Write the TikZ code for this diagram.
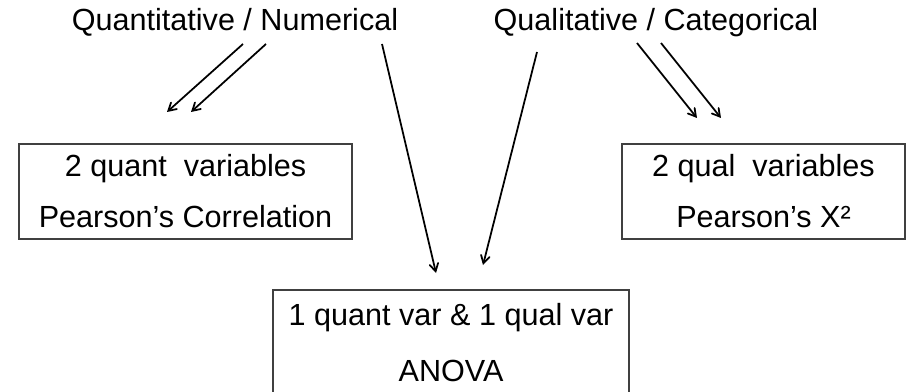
\documentclass[tikz,border=0pt]{standalone}
\usepackage{fontspec}
\setmainfont{Liberation Sans}
\usepackage{tikz}
\usetikzlibrary{arrows}
\usepackage{xcolor}

\tikzset{
  title/.style={anchor=base, inner sep=0pt, font=\fontsize{17.4}{20}\selectfont},
  testbox/.style={draw=black!75, line width=0.6pt, align=center, inner sep=0pt, font=\fontsize{17.4}{29}\selectfont},
  link/.style={->, >=angle 60, line width=1pt}
}

\begin{document}
\begin{tikzpicture}
     \useasboundingbox (0,0) rectangle (18.4,7.82);
     \node[title] (quant) at (4.70,7.20) {Quantitative / Numerical};
     \node[title] (qual) at (13.12,7.20) {Qualitative / Categorical};
     \node[testbox, minimum width=6.66cm, minimum height=1.9cm] (corr) at (3.71,3.99) {2 quant~~variables\\Pearson's Correlation};
     \node[testbox, minimum width=5.66cm, minimum height=1.9cm] (chisq) at (15.27,3.99) {2 qual~~variables\\Pearson's X²};
     \node[testbox, minimum width=7.12cm, minimum height=2.12cm, font=\fontsize{17.4}{31.9}\selectfont] (anova) at (9.02,0.96) {1 quant var \& 1 qual var\\ANOVA};
     \coordinate (quantA) at (4.86,6.94);
     \coordinate (quantB) at (5.32,6.94);
     \coordinate (quantC) at (7.64,6.94);
     \coordinate (qualA) at (10.74,6.78);
     \coordinate (qualB) at (12.74,6.96);
     \coordinate (qualC) at (13.22,6.96);
     \coordinate (corrA) at (3.34,5.58);
     \coordinate (corrB) at (3.82,5.58);
     \coordinate (anovaA) at (8.72,2.36);
     \coordinate (anovaB) at (9.66,2.52);
     \coordinate (chisqA) at (13.94,5.46);
     \coordinate (chisqB) at (14.42,5.46);
     \draw[link] (quantA) -- (corrA);
     \draw[link] (quantB) -- (corrB);
     \draw[link] (quantC) -- (anovaA);
     \draw[link] (qualA) -- (anovaB);
     \draw[link] (qualB) -- (chisqA);
     \draw[link] (qualC) -- (chisqB);
\end{tikzpicture}
\end{document}
